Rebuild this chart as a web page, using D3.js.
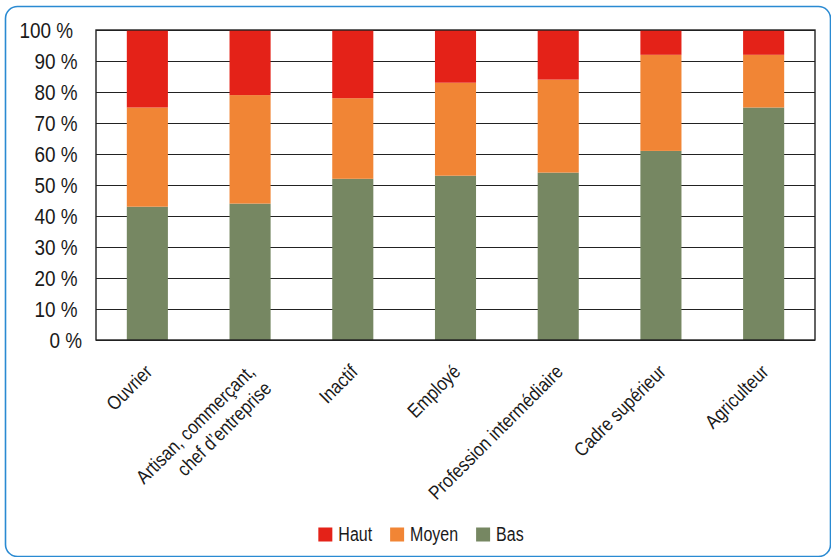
<!DOCTYPE html>
<html>
<head>
<meta charset="utf-8">
<script src="https://cdn.jsdelivr.net/npm/d3@7"></script>
<style>
  body { margin: 0; background: #fff; }
  text { font-family: "Liberation Sans", Arial, sans-serif; fill: #1a1a1a; }
</style>
</head>
<body>
<div id="root"></div>
<script>
var categories = ["Ouvrier", "Artisan, commerçant,\nchef d’entreprise", "Inactif", "Employé",
    "Profession intermédiaire", "Cadre supérieur", "Agriculteur"]
var bas = [43, 44, 52, 53, 54, 61, 75]
var moyen = [32, 35, 26, 30, 30, 31, 17]
var haut = [25, 21, 22, 17, 16, 8, 8]
var seriesNames = ["Bas", "Moyen", "Haut"]
var colors = ["#768762", "#f18535", "#e42218"]
var yTicks = [0, 10, 20, 30, 40, 50, 60, 70, 80, 90, 100]

var width = 831, height = 557
var plot = { left: 96, right: 815, top: 30, bottom: 340 }

var svg = d3.select("#root").append("svg")
    .attr("width", width)
    .attr("height", height)

// cadre bleu arrondi
svg.append("rect")
    .attr("x", 5.5).attr("y", 6.5)
    .attr("width", 825).attr("height", 550)
    .attr("rx", 12)
    .attr("fill", "none")
    .attr("stroke", "#2a8ad2")
    .attr("stroke-width", 1.6)

var rows = categories.map(function (c, i) {
    return { cat: c, Bas: bas[i], Moyen: moyen[i], Haut: haut[i] }
})
var stack = d3.stack().keys(seriesNames)(rows)

var x = d3.scaleBand()
    .domain(categories)
    .range([plot.left, plot.right])
    .paddingInner(0.6)
    .paddingOuter(0.3)
var y = d3.scaleLinear().domain([0, 100]).range([plot.bottom, plot.top])

// grille
svg.append("g").selectAll("line")
    .data(yTicks)
    .enter().append("line")
    .attr("x1", plot.left).attr("x2", plot.right)
    .attr("y1", function (d) { return Math.round(y(d)) + 0.5 })
    .attr("y2", function (d) { return Math.round(y(d)) + 0.5 })
    .attr("stroke", "#222")
    .attr("stroke-width", 1.2)

// barres
svg.append("g").selectAll("g")
    .data(stack)
    .enter().append("g")
    .attr("fill", function (d, i) { return colors[i] })
    .selectAll("rect")
    .data(function (d) { return d })
    .enter().append("rect")
    .attr("x", function (d) { return x(d.data.cat) })
    .attr("width", x.bandwidth())
    .attr("y", function (d) { return y(d[1]) })
    .attr("height", function (d) { return y(d[0]) - y(d[1]) })

// bordure du graphique
svg.append("rect")
    .attr("x", plot.left).attr("y", plot.top)
    .attr("width", plot.right - plot.left)
    .attr("height", plot.bottom - plot.top)
    .attr("fill", "none")
    .attr("stroke", "#222")
    .attr("stroke-width", 1.4)

// axe y
var yAxis = d3.axisLeft(y).tickValues(yTicks)
    .tickSize(0).tickPadding(0)
    .tickFormat(function (d) { return d + " %" })
var gy = svg.append("g")
    .attr("transform", "translate(0,0)")
    .call(yAxis)
gy.select(".domain").remove()
gy.selectAll("text")
    .attr("font-size", 22)
    .attr("font-family", null)
    .attr("fill", "#1a1a1a")
    .attr("x", 0)
    .attr("dy", "0.36em")
    .attr("transform", function (d) {
        // décalage léger selon le nombre de chiffres, comme dans l'original
        var right = 86.5 - 4.5 * String(d).length
        return "translate(" + right + ",0) scale(0.86,1)"
    })

// axe x (étiquettes inclinées)
var xAxis = d3.axisBottom(x).tickSize(0).tickFormat("")
var gx = svg.append("g")
    .attr("transform", "translate(0," + plot.bottom + ")")
    .call(xAxis)
gx.select(".domain").remove()

var labels = svg.append("g").selectAll("text")
    .data(categories)
    .enter().append("text")
    .attr("font-size", 19.5)
    .attr("text-anchor", "end")
    .attr("transform", function (d) {
        var cx = x(d) + x.bandwidth() / 2 + 6
        return "translate(" + cx + "," + 373 + ") rotate(-45) scale(0.86,1)"
    })
labels.selectAll("tspan")
    .data(function (d) { return d.split("\n") })
    .enter().append("tspan")
    .attr("x", 0)
    .attr("dy", function (d, i) { return i === 0 ? 0 : "1.2em" })
    .text(function (d) { return d })

// légende
var legendNames = ["Haut", "Moyen", "Bas"]
var legendColors = ["#e42218", "#f18535", "#768762"]
var legend = svg.append("g")
var lx = 0
legendNames.forEach(function (name, i) {
    var item = legend.append("g").attr("transform", "translate(" + lx + ",0)")
    item.append("rect")
        .attr("width", 14).attr("height", 14)
        .attr("y", -13.5)
        .attr("fill", legendColors[i])
    var t = item.append("text")
        .attr("font-size", 19.5)
        .attr("transform", "translate(20,0) scale(0.82,1)")
        .text(name)
    lx += 20 + t.node().getComputedTextLength() * 0.82 + 18
})
var legendW = lx - 18
legend.attr("transform", "translate(" + (421 - legendW / 2) + "," + 541 + ")")
</script>
</body>
</html>
